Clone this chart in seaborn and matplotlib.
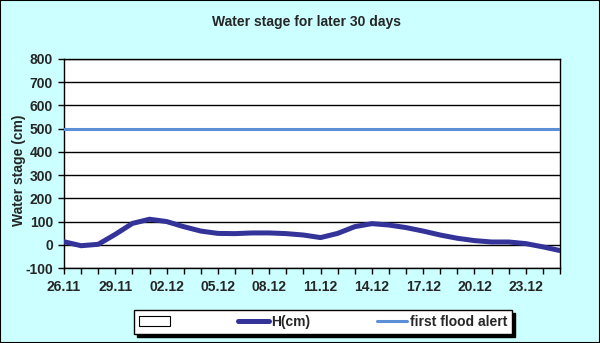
import matplotlib
matplotlib.use("Agg")
import matplotlib.pyplot as plt
import matplotlib.patches as mpatches
from matplotlib import font_manager
import seaborn as sns
import pandas as pd

dates = ["26.11", "27.11", "28.11", "29.11", "30.11", "01.12", "02.12", "03.12", "04.12", "05.12",
         "06.12", "07.12", "08.12", "09.12", "10.12", "11.12", "12.12", "13.12", "14.12", "15.12",
         "16.12", "17.12", "18.12", "19.12", "20.12", "21.12", "22.12", "23.12", "24.12", "25.12"]
h_cm = [13, -4, 2, 45, 92, 110, 100, 78, 59, 49,
        48, 51, 51, 48, 42, 31, 49, 78, 91, 85,
        74, 59, 42, 28, 18, 12, 12, 5, -9, -25]
flood_alert = [500] * len(dates)
y_ticks = [-100, 0, 100, 200, 300, 400, 500, 600, 700, 800]

df = pd.DataFrame({"idx": range(len(dates)), "date": dates, "H": h_cm, "alert": flood_alert})

# pick a family that really has a bold face
fam = "DejaVu Sans"
for cand in ["Liberation Sans", "Arimo", "Roboto", "Open Sans", "Lato", "Inter", "Noto Sans"]:
    if any(f.name == cand and (f.weight in (700, "bold")) for f in font_manager.fontManager.ttflist):
        fam = cand
        break

sns.set_theme(style="white")
plt.rcParams["font.family"] = [fam, "DejaVu Sans"]
plt.rcParams["font.weight"] = "bold"

FS = 10
fig = plt.figure(figsize=(6.0, 3.43), dpi=100)
fig.patch.set_facecolor("#CCFFFF")
ax = fig.add_axes([64/600, 1 - 268/343, (560-64)/600, (268-59)/343])
ax.set_facecolor("white")

for y in y_ticks:
    ax.axhline(y, color="black", lw=1.0, zorder=1)

sns.lineplot(data=df, x="idx", y="alert", ax=ax, color="#5B8FD8", lw=2.2, zorder=3)
sns.lineplot(data=df, x="idx", y="H", ax=ax, color="#333399", lw=3.6, zorder=4)

ax.set_xlim(0, len(dates) - 1)
ax.set_ylim(-100, 800)
ax.set_yticks(y_ticks)
ax.set_yticklabels([str(v) for v in y_ticks], fontsize=FS, fontweight="bold")
ax.set_xticks(range(len(dates)))
ax.set_xticklabels([d if i % 3 == 0 else "" for i, d in enumerate(dates)], fontsize=FS, fontweight="bold")
ax.tick_params(axis="both", direction="out", length=4, width=1, color="black",
               bottom=True, left=True)
ax.tick_params(axis="x", pad=4.5)
ax.tick_params(axis="y", pad=4)
ax.set_xlabel("")
ax.set_ylabel("")
for s in ax.spines.values():
    s.set_color("black")
    s.set_linewidth(1.0)
    s.set_visible(True)

fig.text(19/600, 1 - 170/343, "Water stage (cm)", rotation=90, ha="center", va="center",
         fontsize=FS, fontweight="bold")
fig.text(307/600, 1 - 22/343, "Water stage for later 30 days", ha="center", va="center",
         fontsize=10, fontweight="bold")

handles = [mpatches.Rectangle((0, 0), 1, 1, facecolor="white", edgecolor="black", lw=0.8),
           plt.Line2D([], [], color="#333399", lw=3.6),
           plt.Line2D([], [], color="#5B8FD8", lw=2.2)]
labels = ["", "H(cm)", "first flood alert"]
leg = fig.legend(handles, labels, loc="center", bbox_to_anchor=(323/600, 1 - 322/343), ncol=3,
                 frameon=True, fancybox=False, shadow={"color": "black", "alpha": 1.0},
                 edgecolor="black", facecolor="white",
                 handlelength=2.2, handletextpad=0.15, columnspacing=4.8,
                 borderpad=0.35, prop={"family": [fam, "DejaVu Sans"], "weight": "bold", "size": FS})
leg.get_frame().set_linewidth(1.0)

fig.add_artist(mpatches.Rectangle((0, 0), 1, 1, transform=fig.transFigure, fill=False,
                                  edgecolor="black", lw=1.5))

fig.savefig("out.png", dpi=100, facecolor=fig.get_facecolor())
